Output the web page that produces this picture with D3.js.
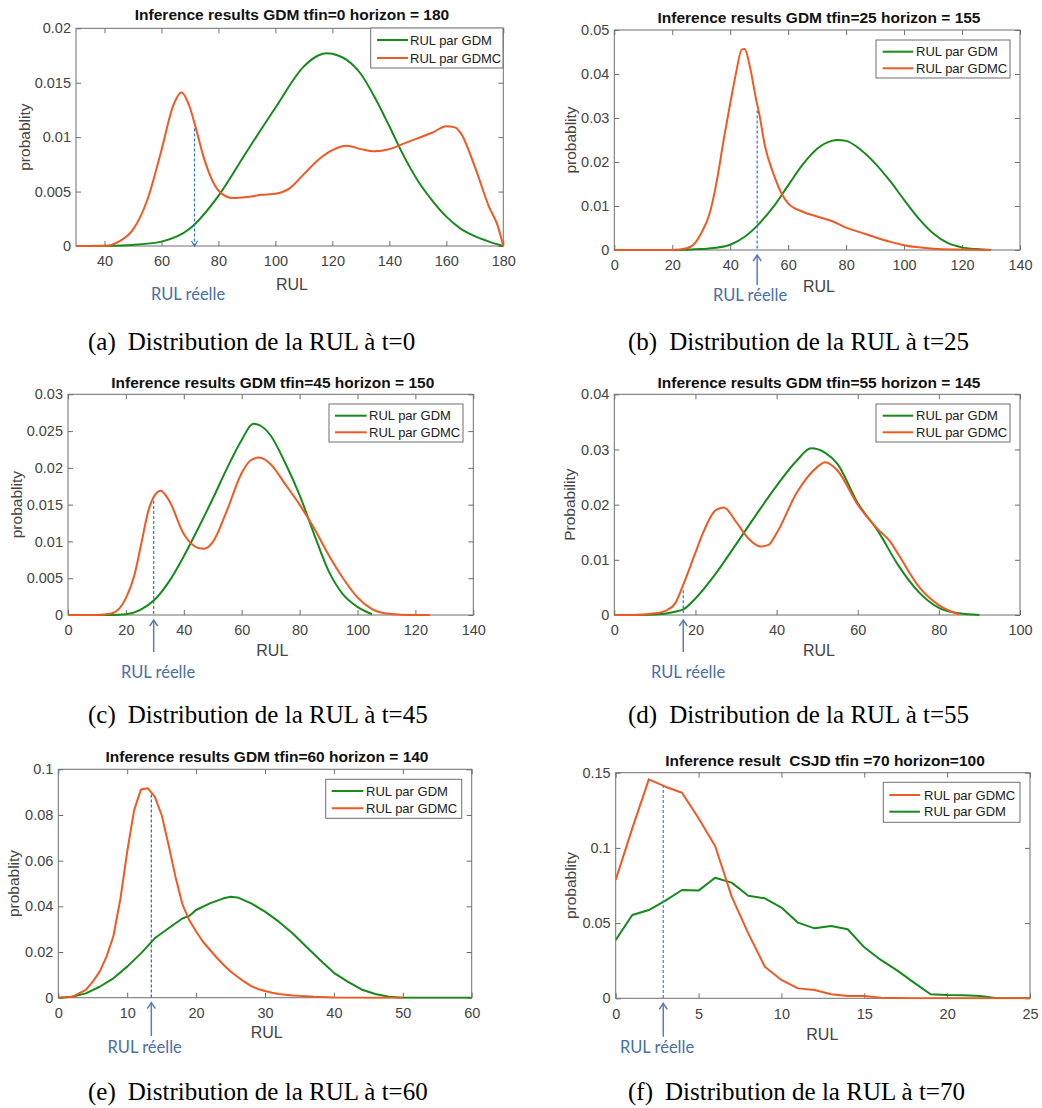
<!DOCTYPE html>
<html><head><meta charset="utf-8">
<script src="https://cdn.jsdelivr.net/npm/d3@7"></script>
<style>body{margin:0;background:#fff} svg{display:block} text{white-space:pre}</style>
</head><body><svg id="c" width="1042" height="1108"></svg>
<script>
// ---------- DATA ----------
// (a) t=0
const gdmA_rul  = [30,40,50,60,70,80,90,100,110,115,118,122,125,130,135,140,145,150,155,160,165,170,175,180];
const gdmA_p    = [0,0.00002,0.0001,0.0004,0.0016,0.0046,0.0087,0.0127,0.0165,0.0175,0.0177,0.0175,0.0171,0.0158,0.0136,0.011,0.0083,0.006,0.0042,0.0027,0.0016,0.0009,0.0004,0];
const gdmcA_rul = [30,40,45,50,55,60,64,67,70,72,75,80,85,90,95,100,105,110,115,120,125,130,135,140,145,150,155,160,163,165,170,175,178,180];
const gdmcA_p   = [0,0,0.0004,0.0015,0.0042,0.0088,0.0128,0.0141,0.0127,0.0109,0.008,0.0051,0.0044,0.0045,0.0047,0.0048,0.0053,0.0066,0.0079,0.0088,0.0092,0.0089,0.0087,0.0089,0.0094,0.0099,0.0104,0.011,0.0109,0.0104,0.0073,0.0036,0.0019,0];
// (b) t=25
const gdmB_rul  = [0,20,25,30,35,40,45,50,55,60,65,70,75,77,80,85,90,95,100,105,110,115,120,125,130];
const gdmB_p    = [0,0,0.00005,0.0002,0.0005,0.0012,0.003,0.006,0.0099,0.0147,0.0194,0.023,0.0248,0.025,0.0248,0.0228,0.0197,0.0158,0.0114,0.0072,0.0038,0.0016,0.0006,0.0002,0];
const gdmcB_rul = [0,20,25,28,30,33,35,38,40,42,44,45,47,49,50,52,55,58,60,65,70,75,80,85,90,95,100,105,110,120,130];
const gdmcB_p   = [0,0,0.0004,0.0017,0.0038,0.0085,0.0144,0.026,0.0333,0.0402,0.0456,0.0457,0.041,0.034,0.031,0.0236,0.0172,0.0125,0.0106,0.0087,0.0076,0.0066,0.0051,0.004,0.0029,0.0019,0.0011,0.0006,0.0003,0.0001,0];
// (c) t=45
const gdmC_rul  = [0,15,20,25,30,35,40,45,50,55,60,64,68,70,75,80,85,90,95,100,105];
const gdmC_p    = [0,0,0.0001,0.0007,0.0021,0.0046,0.008,0.0118,0.0158,0.02,0.0238,0.026,0.0253,0.0244,0.0207,0.0163,0.011,0.006,0.0028,0.0011,0.0001];
const gdmcC_rul = [0,10,15,20,23,25,28,30,32,35,40,45,47,50,55,60,63,66,70,75,80,85,90,95,100,105,110,115,120,125];
const gdmcC_p   = [0,0,0.0002,0.0023,0.0055,0.0091,0.0145,0.0163,0.0169,0.0155,0.011,0.0091,0.009,0.0099,0.0143,0.0193,0.021,0.0214,0.0205,0.0178,0.015,0.0118,0.0082,0.005,0.0024,0.0008,0.0002,0.00005,0,0];
// (d) t=55
const gdmD_rul  = [0,10,15,17,20,25,30,35,40,45,48.5,52,55,60,65,70,75,80,85,90];
const gdmD_p    = [0,0.0001,0.0006,0.001,0.003,0.0075,0.0128,0.0182,0.0234,0.028,0.0302,0.0294,0.0274,0.0203,0.0152,0.009,0.0042,0.0013,0.0003,0];
const gdmcD_rul = [0,5,10,13,15,17,20,22,25,27,30,33,36,38,40,45,50,52,55,60,65,68,70,75,80,85];
const gdmcD_p   = [0,0,0.0003,0.0009,0.0021,0.0055,0.0113,0.0151,0.019,0.0195,0.0169,0.0139,0.0124,0.0127,0.0148,0.0222,0.0268,0.0277,0.0262,0.02,0.0155,0.0133,0.011,0.0052,0.0018,0.0001];
// (e) t=60
const gdmE_rul  = [0,2,4,6,8,10,12,14,16,18,19,20,22,24,25,26,28,30,32,34,36,38,40,42,44,46,48,50,52,55,60];
const gdmE_p    = [0,0.0004,0.0019,0.0048,0.0085,0.0136,0.0194,0.026,0.0304,0.0347,0.0358,0.0384,0.0413,0.0435,0.0442,0.0439,0.0413,0.0377,0.0333,0.0282,0.0223,0.0165,0.0109,0.007,0.0036,0.0016,0.0004,0,0,0,0];
const gdmcE_rul = [0,1,2,3,4,5,6,7,8,9,10,11,12,13,14,15,16,17,18,19,20,21,22,23,24,25,26,27,28,29,30,31,32,33,34,35,36,37,38,39,40,45,50];
const gdmcE_p   = [0,0.0001,0.0004,0.0019,0.0034,0.007,0.0114,0.018,0.027,0.043,0.064,0.082,0.0912,0.0917,0.088,0.08,0.067,0.053,0.041,0.034,0.029,0.0245,0.021,0.0175,0.0143,0.0115,0.0092,0.007,0.0051,0.0038,0.0029,0.0022,0.0016,0.0013,0.001,0.0008,0.0006,0.0004,0.0003,0.0002,0.0001,0,0];
// (f) t=70
const rulF      = [0,1,2,3,4,5,6,7,8,9,10,11,12,13,14,15,16,17,18,19,20,21,22,23,24,25];
const gdmcF_p   = [0.0787,0.113,0.1456,0.1407,0.1367,0.1197,0.1013,0.0676,0.0432,0.021,0.0122,0.0066,0.0055,0.0027,0.0016,0.0016,0.0004,0.0002,0.0001,0.0001,0.0001,0.0001,0.0001,0,0,0];
const gdmF_p    = [0.0388,0.0554,0.0587,0.0649,0.072,0.0716,0.0802,0.0769,0.0682,0.0665,0.0603,0.0503,0.0465,0.0481,0.0459,0.0339,0.0255,0.0184,0.0104,0.0027,0.0022,0.002,0.0016,0,0,0];

// real RUL and the top of its dashed marker
const realRUL = [71.6, 49.3, 29.6, 17, 13.5, 2.87];
const realTop = [0.0108, 0.0317, 0.0155, 0.0045, 0.089, 0.1418];

// axes domains and ticks
const xDomains = [[30,180],[0,140],[0,140],[0,100],[0,60],[0,25]];
const yDomains = [[0,0.02],[0,0.05],[0,0.03],[0,0.04],[0,0.1],[0,0.15]];
const xTicksA = [40,60,80,100,120,140,160,180];
const xTicksB = [0,20,40,60,80,100,120,140];
const xTicksC = [0,20,40,60,80,100,120,140];
const xTicksD = [0,20,40,60,80,100];
const xTicksE = [0,10,20,30,40,50,60];
const xTicksF = [0,5,10,15,20,25];
const yTicksA = [0,0.005,0.01,0.015,0.02];
const yTicksB = [0,0.01,0.02,0.03,0.04,0.05];
const yTicksC = [0,0.005,0.01,0.015,0.02,0.025,0.03];
const yTicksD = [0,0.01,0.02,0.03,0.04];
const yTicksE = [0,0.02,0.04,0.06,0.08,0.1];
const yTicksF = [0,0.05,0.1,0.15];

const titles = [
  "Inference results GDM tfin=0 horizon = 180",
  "Inference results GDM tfin=25 horizon = 155",
  "Inference results GDM tfin=45 horizon = 150",
  "Inference results GDM tfin=55 horizon = 145",
  "Inference results GDM tfin=60 horizon = 140",
  "Inference result  CSJD tfin =70 horizon=100"
];
const yLabels = ["probablity","probablity","probablity","Probability","probablity","probablity"];
const captionTags = ["(a)","(b)","(c)","(d)","(e)","(f)"];
const captionTexts = [
  "Distribution de la RUL à t=0",
  "Distribution de la RUL à t=25",
  "Distribution de la RUL à t=45",
  "Distribution de la RUL à t=55",
  "Distribution de la RUL à t=60",
  "Distribution de la RUL à t=70"
];
const seriesNames = ["RUL par GDM","RUL par GDMC"];

// ---------- LAYOUT ----------
const GREEN = "#178a1c", ORANGE = "#ef5a24";
const AX = "#6f6f6f", TXT = "#444";
const layouts = [
  {L:76, R:503.3, T:28.3, B:246, titleX:292, titleY:20, ylabX:30, xlabX:292, xlabY:290,
   leg:{x0:370.7,y0:28,x1:503,y1:68,l0:377,l1:408,tx:410,r0:40,r1:58},
   mark:"down", lab:{x:188,y:300}, cap:{x:88,y:350}},
  {L:614.3, R:1020, T:30, B:250, titleX:819, titleY:23.3, ylabX:576, xlabX:819, xlabY:291.7,
   leg:{x0:876,y0:40,x1:1010,y1:78,l0:882.7,l1:913.3,tx:916,r0:51.7,r1:68.3},
   mark:"up", arrowBottom:285, lab:{x:750,y:300.5}, cap:{x:628,y:350}},
  {L:68, R:473.3, T:394.3, B:615, titleX:272.8, titleY:387.7, ylabX:21.7, xlabX:272.3, xlabY:655.7,
   leg:{x0:329,y0:404,x1:463,y1:442,l0:335,l1:366.7,tx:369,r0:415.7,r1:432.3},
   mark:"up", arrowBottom:652, lab:{x:158,y:678.3}, cap:{x:88,y:723}},
  {L:614.3, R:1020, T:394.3, B:615, titleX:819, titleY:387.7, ylabX:575, xlabX:819, xlabY:655.7,
   leg:{x0:876,y0:404,x1:1010,y1:442,l0:882.7,l1:913.3,tx:916,r0:415.7,r1:432.3},
   mark:"up", arrowBottom:652, lab:{x:688,y:678.3}, cap:{x:628,y:723}},
  {L:58.3, R:471.7, T:769.3, B:997.7, titleX:267, titleY:761.7, ylabX:19.3, xlabX:266.7, xlabY:1038.3,
   leg:{x0:325.7,y0:779.3,x1:461.7,y1:818.3,l0:331.7,l1:363.3,tx:366,r0:791,r1:808.3},
   mark:"up", arrowBottom:1036, lab:{x:144.7,y:1053}, cap:{x:88,y:1100}, dash:"#3d5f92"},
  {L:615.7, R:1030, T:772.7, B:998.3, titleX:825, titleY:766, ylabX:575.7, xlabX:822.3, xlabY:1040,
   leg:{x0:883.3,y0:782.3,x1:1020,y1:822.3,l0:889.3,l1:920,tx:924,r0:795,r1:811.7},
   mark:"up", arrowBottom:1036.7, lab:{x:657,y:1053}, cap:{x:628,y:1100}, dash:"#3a86c8"}
];

const seriesByPanel = [
  {g:[gdmA_rul,gdmA_p], o:[gdmcA_rul,gdmcA_p], smooth:true},
  {g:[gdmB_rul,gdmB_p], o:[gdmcB_rul,gdmcB_p], smooth:true},
  {g:[gdmC_rul,gdmC_p], o:[gdmcC_rul,gdmcC_p], smooth:true},
  {g:[gdmD_rul,gdmD_p], o:[gdmcD_rul,gdmcD_p], smooth:true},
  {g:[gdmE_rul,gdmE_p], o:[gdmcE_rul,gdmcE_p], smooth:false},
  {g:[rulF,gdmF_p], o:[rulF,gdmcF_p], smooth:false}
];
const xTicksAll = [xTicksA,xTicksB,xTicksC,xTicksD,xTicksE,xTicksF];
const yTicksAll = [yTicksA,yTicksB,yTicksC,yTicksD,yTicksE,yTicksF];

const svg = d3.select("#c");
const SANS = "'Liberation Sans', Arial, sans-serif";

layouts.forEach((lo, i) => {
  const x = d3.scaleLinear().domain(xDomains[i]).range([lo.L, lo.R]);
  const y = d3.scaleLinear().domain(yDomains[i]).range([lo.B, lo.T]);
  const g = svg.append("g");
  const fmt = v => String(v);

  const ax = [
    d3.axisBottom(x).tickValues(xTicksAll[i]).tickSizeInner(-5).tickSizeOuter(0).tickPadding(10).tickFormat(fmt),
    d3.axisTop(x).tickValues(xTicksAll[i]).tickSizeInner(-5).tickSizeOuter(0).tickFormat(""),
    d3.axisLeft(y).tickValues(yTicksAll[i]).tickSizeInner(-5).tickSizeOuter(0).tickPadding(5).tickFormat(fmt),
    d3.axisRight(y).tickValues(yTicksAll[i]).tickSizeInner(-5).tickSizeOuter(0).tickFormat("")
  ];
  const pos = [`translate(0,${lo.B})`, `translate(0,${lo.T})`, `translate(${lo.L},0)`, `translate(${lo.R},0)`];
  ax.forEach((a, k) => {
    const ga = g.append("g").attr("transform", pos[k]).call(a);
    ga.select(".domain").remove();
    ga.selectAll(".tick line").attr("stroke", AX);
    ga.selectAll(".tick text").attr("fill", TXT).attr("font-family", SANS).attr("font-size", 14.5);
  });
  g.append("rect").attr("x", lo.L).attr("y", lo.T).attr("width", lo.R - lo.L).attr("height", lo.B - lo.T)
    .attr("fill", "none").attr("stroke", AX).attr("stroke-width", 1);

  const cid = "clip" + i;
  svg.append("clipPath").attr("id", cid).append("rect")
    .attr("x", lo.L).attr("y", lo.T - 2).attr("width", lo.R - lo.L + 1).attr("height", lo.B - lo.T + 3);

  const s = seriesByPanel[i];
  const line = d3.line().x(d => x(d[0])).y(d => y(d[1])).curve(s.smooth ? d3.curveMonotoneX : d3.curveLinear);
  const zip = (a) => a[0].map((v, k) => [v, a[1][k]]);
  [[s.g, GREEN], [s.o, ORANGE]].forEach(([d, c]) => {
    g.append("path").attr("d", line(zip(d))).attr("fill", "none").attr("stroke", c)
      .attr("stroke-width", 2).attr("stroke-linejoin", "round").attr("clip-path", `url(#${cid})`);
  });

  // real RUL marker
  const rx = x(realRUL[i]);
  const dashC = lo.dash || "#2e78c2";
  g.append("line").attr("x1", rx).attr("x2", rx).attr("y1", y(realTop[i])).attr("y2", lo.B)
    .attr("stroke", dashC).attr("stroke-width", 1.2).attr("stroke-dasharray", "3,2");
  if (lo.mark === "down") {
    g.append("path").attr("d", `M${rx-3},${lo.B-5}L${rx},${lo.B}L${rx+3},${lo.B-5}`)
      .attr("fill", "none").attr("stroke", dashC).attr("stroke-width", 1.2);
  } else {
    const tip = lo.B + 5;
    g.append("line").attr("x1", rx).attr("x2", rx).attr("y1", tip).attr("y2", lo.arrowBottom)
      .attr("stroke", "#5b7db4").attr("stroke-width", 1.5);
    g.append("path").attr("d", `M${rx-4},${tip+6}L${rx},${tip}L${rx+4},${tip+6}`)
      .attr("fill", "none").attr("stroke", "#5b7db4").attr("stroke-width", 1.5);
  }
  g.append("text").attr("x", lo.lab.x).attr("y", lo.lab.y).attr("text-anchor", "middle")
    .attr("font-family", "Lato, 'Open Sans', sans-serif").attr("font-size", 16.5).attr("fill", "#4a6ea6")
    .text("RUL réelle");

  // legend
  const L = lo.leg;
  g.append("rect").attr("x", L.x0).attr("y", L.y0).attr("width", L.x1 - L.x0).attr("height", L.y1 - L.y0)
    .attr("fill", "#fff").attr("stroke", AX).attr("stroke-width", 1);
  const rows = i === 5 ? [[seriesNames[1], ORANGE], [seriesNames[0], GREEN]] : [[seriesNames[0], GREEN], [seriesNames[1], ORANGE]];
  [L.r0, L.r1].forEach((ry, k) => {
    g.append("line").attr("x1", L.l0).attr("x2", L.l1).attr("y1", ry).attr("y2", ry)
      .attr("stroke", rows[k][1]).attr("stroke-width", 2);
    g.append("text").attr("x", L.tx).attr("y", ry + 4.7).attr("font-family", SANS).attr("font-size", 13)
      .attr("fill", "#222").text(rows[k][0]);
  });

  // title and labels
  g.append("text").attr("x", lo.titleX).attr("y", lo.titleY).attr("text-anchor", "middle")
    .attr("font-family", SANS).attr("font-weight", "bold").attr("font-size", 15.5).attr("fill", "#111")
    .attr("xml:space", "preserve").text(titles[i]);
  g.append("text").attr("x", lo.xlabX).attr("y", lo.xlabY).attr("text-anchor", "middle")
    .attr("font-family", SANS).attr("font-size", 16).attr("fill", TXT).text("RUL");
  g.append("text").attr("transform", `translate(${lo.ylabX},${(lo.T + lo.B) / 2}) rotate(-90)`)
    .attr("text-anchor", "middle").attr("font-family", SANS).attr("font-size", 15.5).attr("fill", TXT)
    .text(yLabels[i]);

  // caption
  const cap = g.append("text").attr("x", lo.cap.x).attr("y", lo.cap.y)
    .attr("font-family", "'Liberation Serif', 'Times New Roman', serif").attr("font-size", 25).attr("fill", "#000");
  cap.append("tspan").text(captionTags[i]);
  cap.append("tspan").attr("dx", 12).text(captionTexts[i]);
});
</script>
</body></html>
